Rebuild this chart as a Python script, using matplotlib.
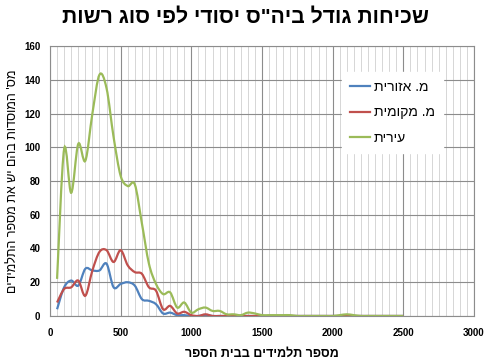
import matplotlib
matplotlib.use("Agg")
import matplotlib.pyplot as plt
import numpy as np
from matplotlib.path import Path
from matplotlib.patches import PathPatch
from matplotlib.lines import Line2D
from matplotlib.ticker import MultipleLocator

plt.rcParams['font.family'] = ['Liberation Sans', 'DejaVu Sans']

# logical Hebrew strings
title = 'שכיחות גודל ביה"ס יסודי לפי סוג רשות'
xlabel = 'מספר תלמידים בבית הספר'
ylabel = "מס' המוסדות בהם יש את מספר התלמידים"
series_names = ['מ. אזורית', 'מ. מקומית', 'עירית']
colors = ['#4F81BD', '#C0504D', '#9BBB59']

x = list(range(50, 2501, 50))
regional = [4, 17, 21, 18, 28, 27, 27, 31, 17, 19, 20, 18, 10, 9, 7, 1.5, 2, 0.5, 0.5, 0,
            0, 0.5, 0, 0, 0, 0, 0, 0, 0, 0, 0, 0, 0, 0, 0, 0, 0, 0, 0, 0,
            0, 0, 0, 0, 0, 0, 0, 0, 0, 0]
local = [8, 16, 17, 21, 12, 27, 38, 39, 32, 39, 30, 26, 25, 17, 15, 4, 6, 1.5, 2.5, 0.5,
         0, 1, 0, 0, 0, 0, 0, 0, 0, 0, 0, 0, 0, 0, 0, 0, 0, 0, 0, 0,
         0, 0, 0, 0, 0, 0, 0, 0, 0, 0]
city = [22, 99, 73, 102, 92, 120, 143, 135, 106, 83, 77, 78, 55, 31, 19, 13, 14, 5, 8, 2,
        4, 5, 3, 3, 1, 1, 0.5, 2, 1.5, 0.5, 0.5, 0.5, 0.5, 0.5, 0, 0, 0, 0, 0, 0,
        0.5, 1, 0.5, 0, 0, 0, 0, 0, 0, 0]

def vis(s):
    return s[::-1]

def smooth_path(xs, ys):
    pts = np.column_stack([xs, ys]).astype(float)
    n = len(pts)
    verts = [pts[0]]
    codes = [Path.MOVETO]
    for i in range(n - 1):
        p0 = pts[i - 1] if i > 0 else pts[i]
        p1 = pts[i]
        p2 = pts[i + 1]
        p3 = pts[i + 2] if i + 2 < n else pts[i + 1]
        c1 = p1 + (p2 - p0) / 6.0
        c2 = p2 - (p3 - p1) / 6.0
        verts += [c1, c2, p2]
        codes += [Path.CURVE4] * 3
    return Path(verts, codes)

fig = plt.figure(figsize=(4.91, 3.59), dpi=100)
ax = fig.add_axes([50/491, 1-316/359, 424/491, 270/359])

for ys, c in zip([regional, local, city], colors):
    ax.add_patch(PathPatch(smooth_path(x, ys), fill=False, edgecolor=c, lw=1.6, zorder=3))

ax.set_xlim(0, 3000)
ax.set_ylim(0, 160)
ax.xaxis.set_major_locator(MultipleLocator(500))
ax.xaxis.set_minor_locator(MultipleLocator(50))
ax.yaxis.set_major_locator(MultipleLocator(20))
ax.grid(which='major', axis='both', color='#8c8c8c', lw=0.8)
ax.grid(which='minor', axis='x', color='#d0d0d0', lw=0.6)
ax.set_axisbelow(True)
for sp in ax.spines.values():
    sp.set_color('#8c8c8c')
    sp.set_linewidth(0.8)
ax.tick_params(which='both', length=0)
ax.tick_params(axis='x', labelsize=7, pad=9)
ax.tick_params(axis='y', labelsize=7, pad=7)
for lab in ax.get_xticklabels() + ax.get_yticklabels():
    lab.set_fontweight('bold')

ax.set_xlabel(vis(xlabel), fontsize=9, fontweight='bold', labelpad=7)
ax.set_ylabel(vis(ylabel), fontsize=9, labelpad=4)
fig.suptitle(vis(title), fontsize=15.2, fontweight='bold', x=0.5, y=0.978)

handles = [Line2D([], [], color=c, lw=1.6) for c in colors]
leg = ax.legend(handles, [vis(s) for s in series_names], loc='upper left',
                bbox_to_anchor=(292/424, 1-26/270), borderaxespad=0, frameon=True, fontsize=10,
                handlelength=1.4, handletextpad=0.3, labelspacing=0.8,
                borderpad=0.6, fancybox=False)
leg.get_frame().set_edgecolor('white')
leg.get_frame().set_facecolor('white')
leg.get_frame().set_alpha(1)

fig.savefig('out.png', dpi=100)
